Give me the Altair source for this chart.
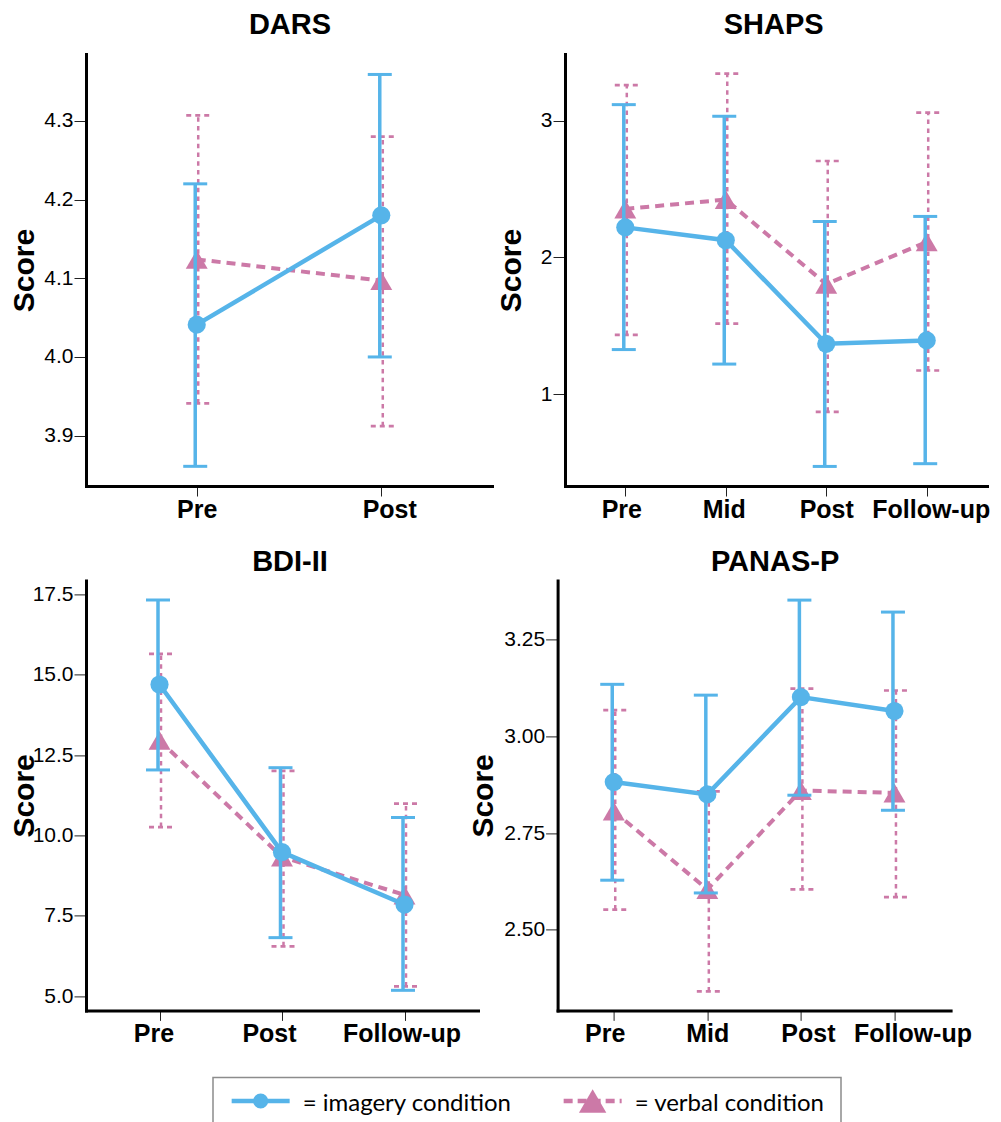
import altair as alt
import pandas as pd

BLUE = "#56B4E9"
PINK = "#CC79A7"
FONT = "Liberation Sans"

# ---------------- data ----------------
dars_times = ["Pre", "Post"]
dars_img_mean = [4.041, 4.180]
dars_img_low = [3.861, 4.000]
dars_img_high = [4.220, 4.359]
dars_verb_mean = [4.124, 4.097]
dars_verb_low = [3.941, 3.912]
dars_verb_high = [4.307, 4.280]
dars_ticks = [3.9, 4.0, 4.1, 4.2, 4.3]

shaps_times = ["Pre", "Mid", "Post", "Follow-up"]
shaps_img_mean = [2.22, 2.126, 1.369, 1.394]
shaps_img_low = [1.327, 1.221, 0.473, 0.493]
shaps_img_high = [3.117, 3.032, 2.263, 2.30]
shaps_verb_mean = [2.355, 2.423, 1.805, 2.114]
shaps_verb_low = [1.434, 1.517, 0.872, 1.174]
shaps_verb_high = [3.26, 3.344, 2.705, 3.059]
shaps_ticks = [1, 2, 3]

bdi_times = ["Pre", "Post", "Follow-up"]
bdi_img_mean = [14.70, 9.48, 7.85]
bdi_img_low = [12.04, 6.82, 5.18]
bdi_img_high = [17.33, 12.11, 10.56]
bdi_verb_mean = [12.96, 9.33, 8.15]
bdi_verb_low = [10.26, 6.55, 5.30]
bdi_verb_high = [15.65, 12.01, 10.99]
bdi_ticks = [5.0, 7.5, 10.0, 12.5, 15.0, 17.5]

panas_times = ["Pre", "Mid", "Post", "Follow-up"]
panas_img_mean = [2.882, 2.850, 3.102, 3.066]
panas_img_low = [2.628, 2.595, 2.848, 2.809]
panas_img_high = [3.135, 3.107, 3.353, 3.322]
panas_verb_mean = [2.807, 2.604, 2.860, 2.854]
panas_verb_low = [2.552, 2.340, 2.604, 2.584]
panas_verb_high = [3.068, 2.858, 3.124, 3.119]
panas_ticks = [2.50, 2.75, 3.00, 3.25]

legend_conditions = ["imagery", "verbal"]
legend_labels = ["= imagery condition", "= verbal condition"]


def panel(name, times, im, il, ih, vm, vl, vh, ydom, yticks, yfmt,
          w, h, title_offset, title_dx, title_x, label_shift):
    n = len(times)
    df = pd.DataFrame({
        "time": times + times,
        "order": list(range(n)) * 2,
        "cond": ["imagery"] * n + ["verbal"] * n,
        "mean": im + vm,
        "low": il + vl,
        "high": ih + vh,
    })
    conds = [{"test": f"datum.value === '{t}'", "value": s}
             for t, s in zip(times, label_shift) if s != 0]
    lab_off = {"condition": conds, "value": 0} if conds else 0
    xax = alt.Axis(title=None, labelAngle=0, labelFont=FONT, labelFontSize=25,
                   labelFontWeight="bold", labelColor="black", labelPadding=1,
                   labelOffset=lab_off,
                   tickSize=10, tickColor="#222222", tickWidth=1,
                   domainColor="black", domainWidth=3, domainCap="square", grid=False)
    x = alt.X("time:N", scale=alt.Scale(type="point", padding=0.6, domain=times), axis=xax)
    ys = alt.Scale(domain=ydom, nice=False, zero=False)
    yax = alt.Axis(title="Score", values=yticks, format=yfmt, labelFont=FONT,
                   labelFontSize=21, labelColor="black", labelPadding=1,
                   tickSize=12, tickColor="#222222", tickWidth=1,
                   domainColor="black", domainWidth=3, domainCap="square", grid=False,
                   titleFont=FONT, titleFontSize=30, titleFontWeight="bold",
                   titleColor="black", titleX=title_x, titleBaseline="middle")

    def Y(f):
        return alt.Y(f"{f}:Q", scale=ys, axis=yax)

    base = alt.Chart(df)
    v = base.transform_filter(alt.datum.cond == "verbal")
    i = base.transform_filter(alt.datum.cond == "imagery")

    layers = []
    # verbal condition (drawn first)
    layers.append(v.mark_rule(color=PINK, strokeWidth=2.5, strokeDash=[4.5, 4.3], xOffset=1.5)
                  .encode(x=x, y=Y("low"), y2=alt.Y2("high")))
    for f in ["low", "high"]:
        layers.append(v.mark_rule(color=PINK, strokeWidth=2.7, strokeDash=[5, 4],
                                  xOffset=-10.5, x2Offset=13.5)
                      .encode(x=x, x2=alt.X2("time"), y=Y(f)))
    layers.append(v.mark_line(color=PINK, strokeWidth=4, strokeDash=[9, 6])
                  .encode(x=x, y=Y("mean"), order="order:Q"))
    layers.append(v.mark_point(shape="triangle-up", filled=True, size=480, color=PINK, opacity=1)
                  .encode(x=x, y=Y("mean")))
    # imagery condition
    layers.append(i.mark_rule(color=BLUE, strokeWidth=3.5, xOffset=-1.5)
                  .encode(x=x, y=Y("low"), y2=alt.Y2("high")))
    for f in ["low", "high"]:
        layers.append(i.mark_rule(color=BLUE, strokeWidth=3, xOffset=-13.5, x2Offset=10.5)
                      .encode(x=x, x2=alt.X2("time"), y=Y(f)))
    layers.append(i.mark_line(color=BLUE, strokeWidth=4.5)
                  .encode(x=x, y=Y("mean"), order="order:Q"))
    layers.append(i.mark_point(shape="circle", filled=True, size=330, color=BLUE, opacity=1)
                  .encode(x=x, y=Y("mean")))

    return alt.layer(*layers).properties(
        width=w, height=h,
        title=alt.Title(name, font=FONT, fontSize=29, fontWeight="bold", color="black",
                        offset=title_offset, dx=title_dx, baseline="alphabetic",
                        anchor="middle"),
    )


dars = panel("DARS", dars_times, dars_img_mean, dars_img_low, dars_img_high,
             dars_verb_mean, dars_verb_low, dars_verb_high,
             [3.836, 4.385], dars_ticks, ".1f", 406, 432, -8.7, 1, -62, [0, 8])
shaps = panel("SHAPS", shaps_times, shaps_img_mean, shaps_img_low, shaps_img_high,
              shaps_verb_mean, shaps_verb_low, shaps_verb_high,
              [0.33, 3.487], shaps_ticks, "d", 422, 432, -8.7, -2.4, -53.4, [-4, -2, 0, 4])
bdi = panel("BDI-II", bdi_times, bdi_img_mean, bdi_img_low, bdi_img_high,
            bdi_verb_mean, bdi_verb_low, bdi_verb_high,
            [4.555, 17.94], bdi_ticks, ".1f", 392, 430, -20, 8, -62, [-6, -13, -3])
panas = panel("PANAS-P", panas_times, panas_img_mean, panas_img_low, panas_img_high,
              panas_verb_mean, panas_verb_low, panas_verb_high,
              [2.291, 3.404], panas_ticks, ".2f", 393, 430, -20, 21, -74.5, [-9, 0, 7, 18])

# ---------------- legend ----------------
leg_df = pd.DataFrame({"cond": legend_conditions, "label": legend_labels})
lx = alt.X("cond:N", scale=alt.Scale(type="point", domain=legend_conditions,
                                     padding=0.4458, align=0.161), axis=None)
ly = alt.Y(datum=0, scale=alt.Scale(domain=[-1, 1]), axis=None)
lcolor = alt.Color("cond:N", scale=alt.Scale(domain=legend_conditions, range=[BLUE, PINK]),
                   legend=None)
ldash = alt.StrokeDash("cond:N", scale=alt.Scale(domain=legend_conditions,
                                                 range=[[1, 0], [9, 5]]), legend=None)
lb = alt.Chart(leg_df)
leg_lines = lb.mark_rule(strokeWidth=4.5, xOffset=-29, x2Offset=29).encode(
    x=lx, x2=alt.X2("cond"), y=ly, color=lcolor, strokeDash=ldash)
leg_circle = lb.transform_filter(alt.datum.cond == "imagery").mark_point(
    shape="circle", filled=True, size=230, color=BLUE, opacity=1).encode(x=lx, y=ly)
leg_tri = lb.transform_filter(alt.datum.cond == "verbal").mark_point(
    shape="triangle-up", filled=True, size=750, color=PINK, opacity=1).encode(x=lx, y=ly)
leg_text = lb.mark_text(align="left", baseline="alphabetic", dx=42, dy=10, font="Lato",
                        fontSize=24, color="black").encode(x=lx, y=ly, text="label:N")
legend = alt.layer(leg_lines, leg_circle, leg_tri, leg_text).properties(
    width=628, height=47, view=alt.ViewBackground(stroke="#8c8c8c", strokeWidth=1.5))

spacer = alt.Chart(pd.DataFrame({"s": [0]})).mark_point(opacity=0).encode(
    x=alt.X("s:Q", axis=None), y=alt.Y("s:Q", axis=None)).properties(width=125, height=47)

top = alt.hconcat(dars, shaps, spacing=3)
bottom = alt.hconcat(bdi, panas, spacing=-11.4)
leg_row = alt.hconcat(spacer, legend, spacing=0)

chart = alt.vconcat(alt.vconcat(top, bottom, spacing=24.4), leg_row, spacing=29.5).properties(
    padding={"left": 0, "top": 2, "right": 0, "bottom": 0}
).configure_view(stroke="transparent")

chart.save("out.html", embed_options={"renderer": "svg", "actions": False})
